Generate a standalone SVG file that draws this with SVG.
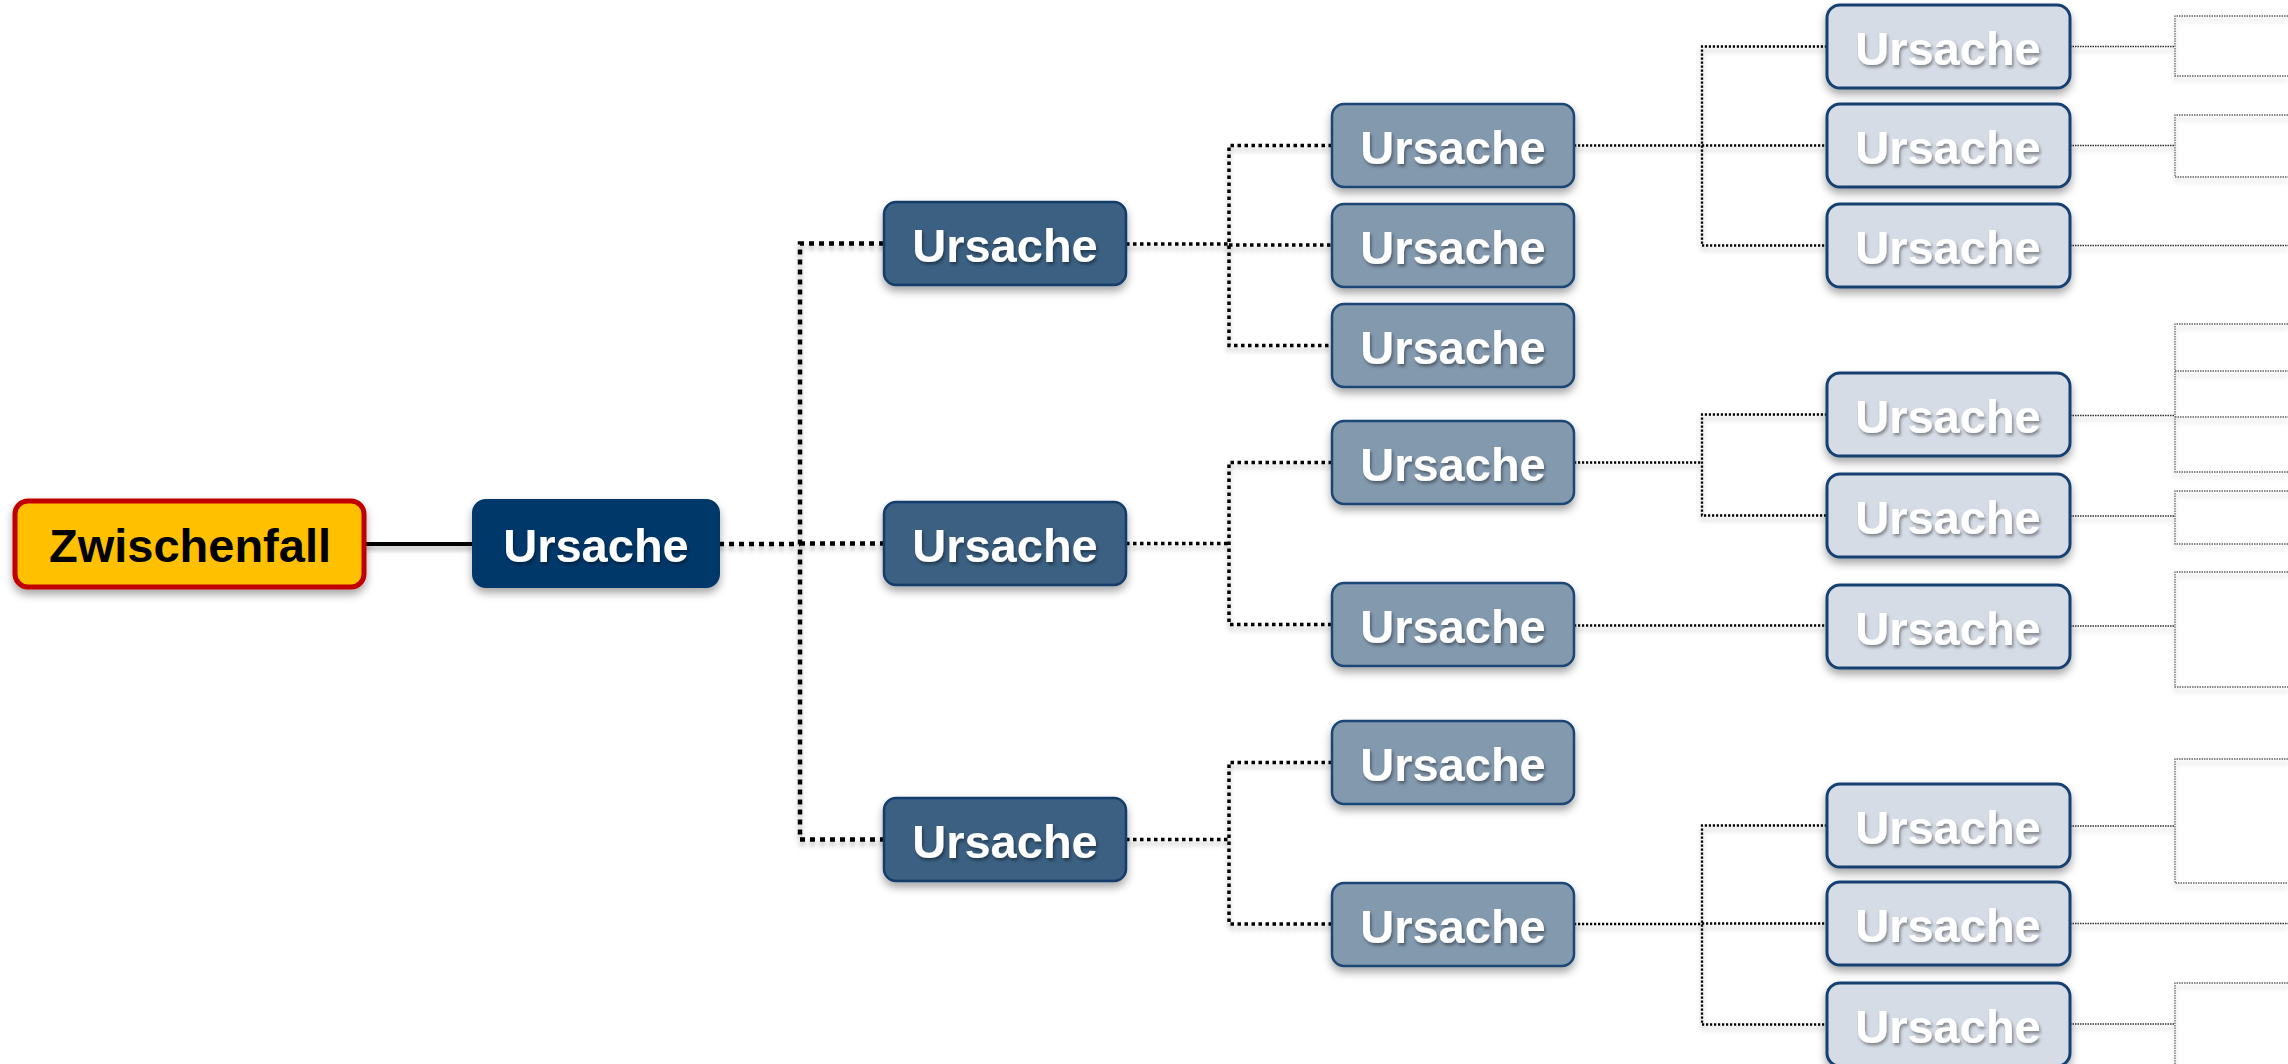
<svg xmlns="http://www.w3.org/2000/svg" width="2288" height="1064" viewBox="0 0 2288 1064">
<defs>
<filter id="nsh" x="-20%" y="-30%" width="140%" height="170%">
<feDropShadow dx="0" dy="5" stdDeviation="4" flood-color="#000" flood-opacity="0.35"/>
</filter>
<filter id="lsh" x="-5%" y="-50%" width="110%" height="200%" filterUnits="userSpaceOnUse">
<feDropShadow dx="0" dy="4" stdDeviation="2.5" flood-color="#000" flood-opacity="0.3"/>
</filter>
<filter id="tsh" x="-10%" y="-20%" width="120%" height="150%">
<feDropShadow dx="1.5" dy="2.5" stdDeviation="1.5" flood-color="#000" flood-opacity="0.4"/>
</filter>
</defs>
<style>
text{font-family:"Liberation Sans",Arial,sans-serif;font-weight:bold;font-size:47px;text-anchor:middle}
.t{fill:#fff;filter:url(#tsh)}
.r0{fill:#FFC000;stroke:#C00000;stroke-width:5}
.r1{fill:#03376A;stroke:#03376A;stroke-width:2}
.r2{fill:#3A6082;stroke:#123E6B;stroke-width:2.5}
.r3{fill:#8399AE;stroke:#1A4674;stroke-width:2.5}
.r4{fill:#D6DCE6;stroke:#123F70;stroke-width:3}
.c{fill:none}
.c0{stroke:#000;stroke-width:4}
.c1{stroke:#000;stroke-width:4.5;stroke-dasharray:5 5}
.c2{stroke:#000;stroke-width:3.5;stroke-dasharray:3.5 3.5}
.c3{stroke:#000;stroke-width:2.3;stroke-dasharray:2.2 1.8}
.c4{stroke:#333;stroke-width:1.4;stroke-dasharray:1.5 1}
.c5{stroke:#666;stroke-width:1.3;stroke-dasharray:1.5 1}
</style>
<g id="connectors" class="c">
<g filter="url(#lsh)">
<path class="c0" d="M364 544H473"/>
<path class="c1" d="M719 544H800M884 243.5H800V839.5H884M800 543.5H884"/>
<path class="c2" d="M1126 244H1229M1332 145.5H1229V345.5H1332M1229 245H1332"/>
<path class="c2" d="M1126 543.5H1229M1332 462.5H1229V624.5H1332"/>
<path class="c2" d="M1126 839.5H1229M1332 762.5H1229V924H1332"/>
<path class="c3" d="M1574 145.5H1702M1827 46.5H1702V245.5H1827M1702 145.5H1827"/>
<path class="c3" d="M1574 462.5H1702M1827 414.5H1702V515.5H1827"/>
<path class="c3" d="M1574 625.5H1827"/>
<path class="c3" d="M1574 924H1702M1827 825.5H1702V1024.5H1827M1702 923.5H1827"/>
<path class="c4" d="M2070 46.5H2175M2070 145.5H2175M2070 245.5H2288M2070 415.5H2175M2070 516H2175M2070 626H2175M2070 826H2175M2070 923.5H2288M2070 1024H2175"/>
<path class="c5" d="M2288 16H2175V76H2288"/>
<path class="c5" d="M2288 115H2175V177H2288"/>
<path class="c5" d="M2288 324H2175V472H2288M2175 371H2288M2175 417H2288"/>
<path class="c5" d="M2288 491H2175V544H2288"/>
<path class="c5" d="M2288 572H2175V687H2288"/>
<path class="c5" d="M2288 759H2175V883H2288"/>
<path class="c5" d="M2288 983H2175V1070"/>
</g>
</g>
<g id="n0"><rect class="r0" x="15" y="501" width="349" height="86" rx="13" filter="url(#nsh)"/><text x="190" y="562" fill="#000" font-size="48.5">Zwischenfall</text></g>
<g id="n1"><rect class="r1" x="473" y="500" width="246" height="87" rx="13" filter="url(#nsh)"/><text class="t" x="596" y="562">Ursache</text></g>
<g id="n2a"><rect class="r2" x="884" y="202" width="242" height="83" rx="12" filter="url(#nsh)"/><text class="t" x="1005" y="262">Ursache</text></g>
<g id="n2b"><rect class="r2" x="884" y="502" width="242" height="83" rx="12" filter="url(#nsh)"/><text class="t" x="1005" y="562">Ursache</text></g>
<g id="n2c"><rect class="r2" x="884" y="798" width="242" height="83" rx="12" filter="url(#nsh)"/><text class="t" x="1005" y="858">Ursache</text></g>
<g id="n3a"><rect class="r3" x="1332" y="104" width="242" height="83" rx="12" filter="url(#nsh)"/><text class="t" x="1453" y="164">Ursache</text></g>
<g id="n3b"><rect class="r3" x="1332" y="204" width="242" height="83" rx="12" filter="url(#nsh)"/><text class="t" x="1453" y="264">Ursache</text></g>
<g id="n3c"><rect class="r3" x="1332" y="304" width="242" height="83" rx="12" filter="url(#nsh)"/><text class="t" x="1453" y="364">Ursache</text></g>
<g id="n3d"><rect class="r3" x="1332" y="421" width="242" height="83" rx="12" filter="url(#nsh)"/><text class="t" x="1453" y="481">Ursache</text></g>
<g id="n3e"><rect class="r3" x="1332" y="583" width="242" height="83" rx="12" filter="url(#nsh)"/><text class="t" x="1453" y="643">Ursache</text></g>
<g id="n3f"><rect class="r3" x="1332" y="721" width="242" height="83" rx="12" filter="url(#nsh)"/><text class="t" x="1453" y="781">Ursache</text></g>
<g id="n3g"><rect class="r3" x="1332" y="883" width="242" height="83" rx="12" filter="url(#nsh)"/><text class="t" x="1453" y="943">Ursache</text></g>
<g id="n4a"><rect class="r4" x="1827" y="5" width="243" height="83" rx="13" filter="url(#nsh)"/><text class="t" x="1948" y="65">Ursache</text></g>
<g id="n4b"><rect class="r4" x="1827" y="104" width="243" height="83" rx="13" filter="url(#nsh)"/><text class="t" x="1948" y="164">Ursache</text></g>
<g id="n4c"><rect class="r4" x="1827" y="204" width="243" height="83" rx="13" filter="url(#nsh)"/><text class="t" x="1948" y="264">Ursache</text></g>
<g id="n4d"><rect class="r4" x="1827" y="373" width="243" height="83" rx="13" filter="url(#nsh)"/><text class="t" x="1948" y="433">Ursache</text></g>
<g id="n4e"><rect class="r4" x="1827" y="474" width="243" height="83" rx="13" filter="url(#nsh)"/><text class="t" x="1948" y="534">Ursache</text></g>
<g id="n4f"><rect class="r4" x="1827" y="585" width="243" height="83" rx="13" filter="url(#nsh)"/><text class="t" x="1948" y="645">Ursache</text></g>
<g id="n4g"><rect class="r4" x="1827" y="784" width="243" height="83" rx="13" filter="url(#nsh)"/><text class="t" x="1948" y="844">Ursache</text></g>
<g id="n4h"><rect class="r4" x="1827" y="882" width="243" height="83" rx="13" filter="url(#nsh)"/><text class="t" x="1948" y="942">Ursache</text></g>
<g id="n4i"><rect class="r4" x="1827" y="983" width="243" height="83" rx="13" filter="url(#nsh)"/><text class="t" x="1948" y="1043">Ursache</text></g>
</svg>
